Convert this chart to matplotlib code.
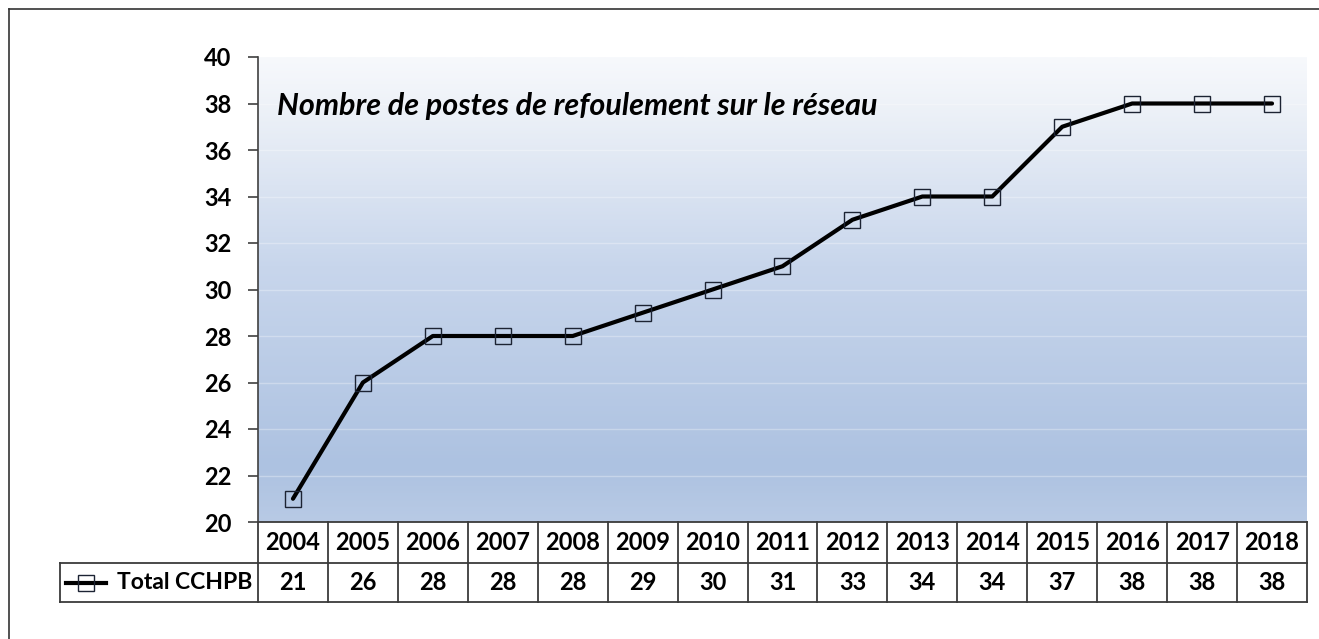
import numpy as np
import matplotlib
matplotlib.use("Agg")
import matplotlib.pyplot as plt
from matplotlib.colors import LinearSegmentedColormap
from matplotlib.lines import Line2D
import matplotlib.transforms as mtransforms

# Données
annees = ["2004", "2005", "2006", "2007", "2008", "2009", "2010", "2011",
          "2012", "2013", "2014", "2015", "2016", "2017", "2018"]
total_cchpb = [21, 26, 28, 28, 28, 29, 30, 31, 33, 34, 34, 37, 38, 38, 38]
nom_serie = "Total CCHPB"
titre = "Nombre de postes de refoulement sur le réseau"

plt.rcParams['font.family'] = ['Lato', 'DejaVu Sans']
W, H = 1319, 639
fig = plt.figure(figsize=(W / 100, H / 100), dpi=100)

# zone de tracé (pixels de la référence)
px_l, px_r, px_t, px_b = 258, 1307, 57, 522
ax = fig.add_axes([px_l / W, 1 - px_b / H, (px_r - px_l) / W, (px_b - px_t) / H])

n = len(annees)
x = np.arange(n)
ax.set_xlim(-0.5, n - 0.5)
ax.set_ylim(20, 40)
ax.set_yticks(np.arange(20, 41, 2))
ax.set_xticks([])

# fond dégradé
cmap = LinearSegmentedColormap.from_list(
    "fond", [(0.0, "#b8cae5"), (0.12, "#adc2e1"), (0.55, "#c8d6ec"), (0.9, "#eef2f8"), (1.0, "#f7f9fc")])
grad = np.linspace(0, 1, 256).reshape(-1, 1)
ax.imshow(grad, cmap=cmap, aspect="auto", origin="lower",
          extent=(-0.5, n - 0.5, 20, 40), zorder=0)
for yv in np.arange(22, 40, 2):
    ax.axhline(yv, color="white", lw=1, alpha=0.3, zorder=1)

# courbe
ax.plot(x, total_cchpb, color="black", lw=3.0, solid_joinstyle="round",
        solid_capstyle="round", zorder=3)
ax.plot(x, total_cchpb, ls="none", marker="s", ms=11, mfc="none",
        mec="#1c2333", mew=1.0, zorder=4)

ax.text(0.018, 0.895, titre, transform=ax.transAxes, fontsize=22,
        fontweight="bold", style="italic", ha="left", va="center")

# axes
for s in ["top", "right", "bottom"]:
    ax.spines[s].set_visible(False)
ax.spines["left"].set_color("#404040")
ax.spines["left"].set_linewidth(1.2)
ax.tick_params(axis="y", direction="out", length=7, width=1.2, color="#404040",
               pad=12, labelsize=17)
for lab in ax.get_yticklabels():
    lab.set_fontweight("bold")

# tableau de données
trans = mtransforms.blended_transform_factory(ax.transData, ax.transAxes)
ah = px_b - px_t
r1 = -(563 - px_b) / ah
r2 = -(602 - px_b) / ah
colw = (px_r - px_l) / n
x_lab = -0.5 - (px_l - 60) / colw
lc = "#3a3a3a"
lw_t = 1.3
ax.plot([-0.5, n - 0.5], [0, 0], transform=trans, color=lc, lw=lw_t, clip_on=False)
ax.plot([x_lab, n - 0.5], [r1, r1], transform=trans, color=lc, lw=lw_t, clip_on=False)
ax.plot([x_lab, n - 0.5], [r2, r2], transform=trans, color=lc, lw=lw_t, clip_on=False)
for b in np.arange(-0.5, n, 1.0):
    ax.plot([b, b], [0, r2], transform=trans, color=lc, lw=lw_t, clip_on=False)
ax.plot([x_lab, x_lab], [r1, r2], transform=trans, color=lc, lw=lw_t, clip_on=False)

for xi, a, v in zip(x, annees, total_cchpb):
    ax.text(xi, r1 / 2, a, transform=trans, ha="center", va="center",
            fontsize=17, fontweight="bold")
    ax.text(xi, (r1 + r2) / 2, str(v), transform=trans, ha="center", va="center",
            fontsize=17, fontweight="bold")

# clé de légende dans la cellule
ym = (r1 + r2) / 2
k0 = x_lab + 6 / colw
k1 = x_lab + 46 / colw
ax.add_line(Line2D([k0, k1], [ym, ym], transform=trans, color="black", lw=3.0,
                   clip_on=False))
ax.add_line(Line2D([(k0 + k1) / 2], [ym], transform=trans, ls="none", marker="s",
                   ms=11, mfc="none", mec="#1c2333", mew=1.0, clip_on=False))
ax.text(-0.5 - 6 / colw, ym, nom_serie, transform=trans, ha="right", va="center",
        fontsize=16.5, fontweight="bold")

# cadre extérieur (coupé à droite et en bas)
fig.add_artist(Line2D([9 / W, 1], [1 - 9 / H, 1 - 9 / H], color="#333333", lw=1.2))
fig.add_artist(Line2D([9 / W, 9 / W], [0, 1 - 9 / H], color="#333333", lw=1.2))

fig.savefig("out.png", dpi=100)
